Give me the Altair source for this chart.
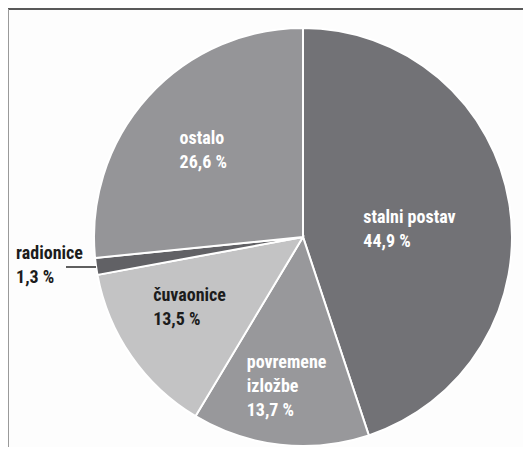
import altair as alt
import pandas as pd

categories = ["stalni postav", "povremene izložbe", "čuvaonice", "radionice", "ostalo"]
values = [44.9, 13.7, 13.5, 1.3, 26.6]
labels = ["stalni postav\n44,9 %", "povremene\nizložbe\n13,7 %", "čuvaonice\n13,5 %",
          "radionice\n1,3 %", "ostalo\n26,6 %"]
colors = ["#727276", "#98989b", "#c3c3c4", "#616165", "#959598"]
label_colors = ["white", "white", "#1c1c1c", "#1c1c1c", "white"]

df = pd.DataFrame({"category": categories, "value": values, "label": labels,
                   "order": list(range(len(categories)))})

W, H = 515, 439
CX, CY, R = 295, 229, 209
FONT = "Liberation Sans Narrow, Roboto Condensed, DejaVu Sans Condensed, sans-serif"

theta_scale = alt.Scale(domain=[0, 100])

base = alt.Chart(df).transform_window(
    cum="sum(value)", sort=[alt.SortField("order")], frame=[None, 0]
).transform_calculate(
    start="datum.cum - datum.value",
    mid="datum.cum - datum.value / 2",
)

arcs = base.mark_arc(stroke="white", strokeWidth=2).encode(
    theta=alt.Theta("start:Q", scale=theta_scale),
    theta2="cum:Q",
    color=alt.Color("category:N", scale=alt.Scale(domain=categories, range=colors), legend=None),
    x=alt.value(CX),
    y=alt.value(CY),
    radius=alt.value(R),
)

# label placement (style): radius from center and offsets
placement = {
    "stalni postav": (130, -68, -7),
    "povremene izložbe": (130, -42, -12),
    "čuvaonice": (130, -43, -24),
    "radionice": (209, -80, -21),
    "ostalo": (130, -27, -20),
}

layers = [arcs]
for cat, lc in zip(categories, label_colors):
    r, dx, dy = placement[cat]
    layers.append(
        base.transform_filter(alt.datum.category == cat).mark_text(
            radius=r, dx=dx, dy=dy, align="left", baseline="top",
            lineBreak="\n", lineHeight=24, font=FONT, fontSize=18,
            fontWeight="bold", color=lc,
        ).encode(
            theta=alt.Theta("mid:Q", scale=theta_scale, stack=False),
            text="label:N",
            x=alt.value(CX),
            y=alt.value(CY),
        )
    )

frame_df = pd.DataFrame({"k": [0]})
leader = alt.Chart(frame_df).mark_rule(color="#2a2a2a", strokeWidth=1.5).encode(
    x=alt.value(58), x2=alt.value(88), y=alt.value(259)
)
top_rule = alt.Chart(frame_df).mark_rule(color="#222222", strokeWidth=1.5).encode(
    x=alt.value(0), x2=alt.value(W), y=alt.value(1)
)
left_rule = alt.Chart(frame_df).mark_rule(color="#9a9a9a", strokeWidth=2).encode(
    x=alt.value(0), y=alt.value(1), y2=alt.value(H)
)

chart = alt.layer(*layers, leader, top_rule, left_rule).properties(
    width=W, height=H, autosize=alt.AutoSizeParams(type="none"), padding=0,
    background="#fdfdfd",
).configure_view(stroke=None)

chart.save("out.html", embed_options={"renderer": "svg", "actions": False})
